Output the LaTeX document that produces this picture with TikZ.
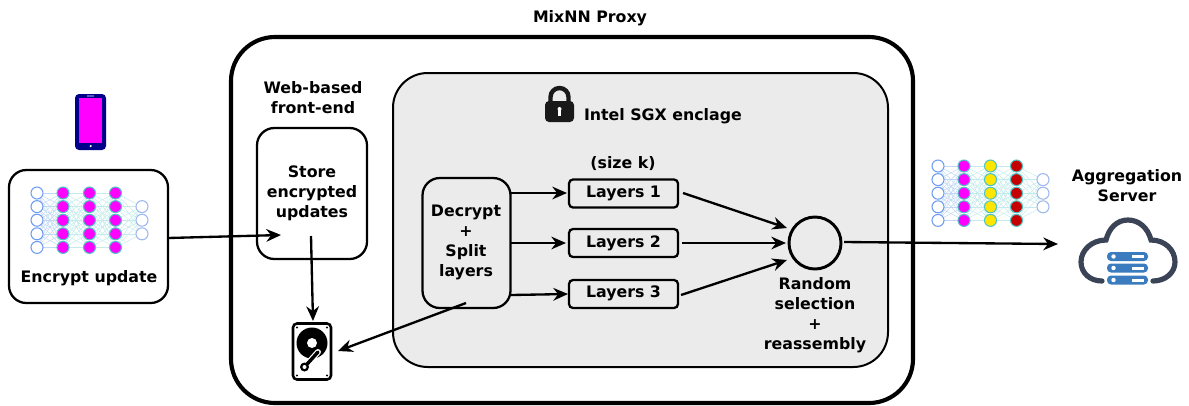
\documentclass[tikz,border=0pt]{standalone}
\usepackage{fontspec}
\setmainfont{DejaVu Sans}
\usetikzlibrary{arrows.meta,calc}
\tikzset{
  x=0.75pt,y=-0.75pt,
  box/.style={draw=black,line width=1.7pt,rounded corners=#1,inner sep=0pt,outer sep=0pt},
  box/.default=12pt,
  lbl/.style={font=\bfseries\fontsize{11.85}{15}\selectfont,text=black,align=center,inner sep=0pt,outer sep=0pt},
  arr/.style={line width=1.75pt,-{Stealth[length=11pt,width=9.5pt]},black},
  neuron/.style={circle,draw=#1,line width=0.8pt,minimum size=9pt,inner sep=0pt,outer sep=0pt},
  nnline/.style={draw=#1,line width=0.35pt},
}
\definecolor{inblue}{HTML}{6F9CF0}
\definecolor{hidedge}{HTML}{4FC3C3}
\definecolor{outblue}{HTML}{9DB9EE}
\definecolor{edgeblue}{HTML}{BFD8F5}
\definecolor{edgeteal}{HTML}{C4EBEB}
\definecolor{magentaN}{HTML}{FF00FF}
\definecolor{yellowN}{HTML}{FFE600}
\definecolor{redN}{HTML}{C40000}
\definecolor{enclave}{HTML}{EBEBEB}
\definecolor{phoneblue}{HTML}{00008B}
\definecolor{cloudgrey}{HTML}{3B4357}
\definecolor{srvblue}{HTML}{3A7CBD}
\newcommand{\nnet}[6]{%
  \foreach \i in {1,...,5}{%
    \pgfmathsetmacro{\yy}{#3+(\i-1)*13.6}
    \coordinate (#1a\i) at (#2,\yy);
    \coordinate (#1b\i) at (#2+26,\yy);
    \coordinate (#1c\i) at (#2+52.5,\yy);
    \coordinate (#1d\i) at (#2+78.5,\yy);
  }
  \foreach \i in {1,2,3}{%
    \pgfmathsetmacro{\yy}{#3+13.6*\i}
    \coordinate (#1e\i) at (#2+105,\yy);
  }
  \foreach \i in {1,...,5}{\foreach \j in {1,...,5}{%
    \draw[nnline=edgeblue] (#1a\i) -- (#1b\j);
    \draw[nnline=edgeteal] (#1b\i) -- (#1c\j);
    \draw[nnline=edgeteal] (#1c\i) -- (#1d\j);
  }}
  \foreach \i in {1,...,5}{\foreach \j in {1,2,3}{%
    \draw[nnline=edgeteal] (#1d\i) -- (#1e\j);
  }}
  \foreach \i in {1,...,5}{%
    \node[neuron=inblue,fill=white] (#1na\i) at (#1a\i) {};
    \node[neuron=hidedge,fill=#4] (#1nb\i) at (#1b\i) {};
    \node[neuron=hidedge,fill=#5] (#1nc\i) at (#1c\i) {};
    \node[neuron=hidedge,fill=#6] (#1nd\i) at (#1d\i) {};
  }
  \foreach \i in {1,2,3}{\node[neuron=outblue,fill=white] (#1ne\i) at (#1e\i) {};}
}
\newcommand{\srv}[1]{%
  \fill[srvblue,rounded corners=3pt] (1107,#1) rectangle (1148,#1+9);
  \fill[white] (1113.5,#1+4.5) circle (2.2);
  \fill[white] (1132,#1+3) rectangle (1144,#1+6);
}
\begin{document}
\begin{tikzpicture}
\useasboundingbox (0,0) rectangle (1189,405);
\fill[white] (0,0) rectangle (1189,405);

% containers
\node[box=33pt,line width=3.1pt,minimum width=682*0.75pt,minimum height=366*0.75pt] (proxy) at (572,220) {};
\node[box=26pt,line width=1.5pt,fill=enclave,minimum width=495*0.75pt,minimum height=294*0.75pt] (sgx) at (640.5,220) {};
\node[box=13pt,minimum width=159*0.75pt,minimum height=133*0.75pt] (enc) at (88.5,236.5) {};
\node[box=13pt,minimum width=110*0.75pt,minimum height=131*0.75pt] (front) at (312,193.5) {};
\node[box=13pt,minimum width=88*0.75pt,minimum height=130*0.75pt] (split) at (466.5,243) {};
\node[box=3pt,minimum width=109*0.75pt,minimum height=28*0.75pt] (l1) at (623.5,193.5) {};
\node[box=3pt,minimum width=109*0.75pt,minimum height=28*0.75pt] (l2) at (623.5,243) {};
\node[box=3pt,minimum width=109*0.75pt,minimum height=28*0.75pt] (l3) at (623.5,294) {};
\node[circle,draw=black,line width=2.2pt,minimum size=52*0.75pt,inner sep=0pt,outer sep=0pt] (mix) at (815,243) {};

% labels
\node[lbl] (tproxy) at (590,18) {MixNN Proxy};
\node[lbl] (tweb) at (313,98) {Web-based\\front-end};
\node[lbl] (tstore) at (312,193.5) {Store\\encrypted\\updates};
\node[lbl,anchor=west] (tsgx) at (584,116) {Intel SGX enclage};
\node[lbl] (tsize) at (623,164) {(size k)};
\node[lbl] at (623.5,193) {Layers 1};
\node[lbl] at (623.5,243) {Layers 2};
\node[lbl] at (623.5,293.5) {Layers 3};
\node[lbl] (tsplit) at (466,242.5) {Decrypt\\+\\Split\\layers};
\node[lbl] (trand) at (815,315.5) {Random\\selection\\+\\reassembly};
\node[lbl] (tagg) at (1127,186) {Aggregation\\Server};
\node[lbl] (tenc) at (89,278.5) {Encrypt update};

% networks
\nnet{p}{37}{193}{magentaN}{magentaN}{magentaN}
\nnet{q}{938}{166}{magentaN}{yellowN}{redN}

% phone
\fill[phoneblue,rounded corners=3pt] (75,94) rectangle (106,150);
\fill[magentaN] (79,98) rectangle (102,143);
\fill[white] (90.7,146) circle (1.2);
\fill[white!35!phoneblue] (87,95.3) rectangle (94,96.7);

% lock
\draw[black!90,line width=3.3pt] (550.5,102) -- (550.5,97) arc[start angle=180,end angle=360,radius=9] -- (568.5,102);
\fill[black!90,rounded corners=3pt] (545,101) rectangle (574,122);
\fill[white] (559.5,109) circle (2);
\fill[white] (558.3,109) rectangle (560.7,116);

% disk
\node[box=3pt,minimum width=38*0.75pt,minimum height=56*0.75pt,line width=1.9pt] (disk) at (312,351.5) {};
\fill[black] (312,343) circle (15.5);
\fill[white] (312,343) circle (5);
\fill[black] (297,327.5) circle (1.1) (327,327.5) circle (1.1) (297,375.5) circle (1.1) (327,375.5) circle (1.1);
\draw[white,line width=4.4pt,line cap=round] (304.5,367) -- (318,352);
\draw[black,line width=2.6pt,line cap=round] (304.5,367) -- (318,352);
\fill[black] (304.5,367) circle (4.5);
\fill[white] (304.5,367) circle (2);

% cloud
\draw[cloudgrey,line width=3.9pt,line cap=round]
  (1102,281) .. controls (1090,281) and (1081,273) .. (1081,262)
  .. controls (1081,250) and (1092,240) .. (1106,240)
  .. controls (1109,228) and (1117,220) .. (1128,220)
  .. controls (1139,220) and (1148,228) .. (1151,240)
  .. controls (1165,240) and (1175,250) .. (1175,262)
  .. controls (1175,273) and (1165,281) .. (1153,281);
\srv{252}\srv{263.5}\srv{275.5}

% connectors
\coordinate (c1) at (168,238);
\coordinate (c2) at (281,235);
\coordinate (c3) at (311,236);
\coordinate (c4) at (313,321);
\coordinate (c5) at (466,303);
\coordinate (c6) at (338,351);
\coordinate (s1) at (511,193);
\coordinate (s1e) at (567,193);
\coordinate (s2) at (511,243);
\coordinate (s2e) at (566,243);
\coordinate (s3) at (511,295);
\coordinate (s3e) at (568,294);
\coordinate (m1) at (683,193);
\coordinate (m1e) at (787,228);
\coordinate (m2) at (682,243);
\coordinate (m2e) at (786,243);
\coordinate (m3) at (681,295);
\coordinate (m3e) at (787,260);
\coordinate (o1) at (844,242);
\coordinate (o2) at (1058,244);
\draw[arr] (c1) -- (c2);
\draw[arr] (c3) -- (c4);
\draw[arr] (c5) -- (c6);
\draw[arr] (s1) -- (s1e);
\draw[arr] (s2) -- (s2e);
\draw[arr] (s3) -- (s3e);
\draw[arr] (m1) -- (m1e);
\draw[arr] (m2) -- (m2e);
\draw[arr] (m3) -- (m3e);
\draw[arr] (o1) -- (o2);
\end{tikzpicture}
\end{document}
